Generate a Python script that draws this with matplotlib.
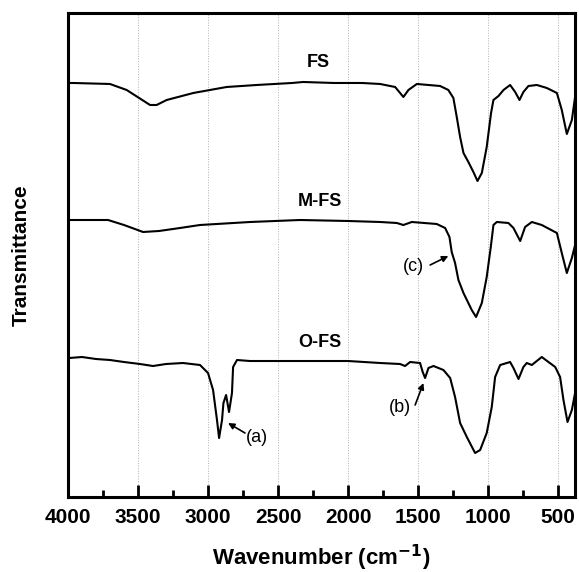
import numpy as np
import matplotlib
matplotlib.use('Agg')
import matplotlib.pyplot as plt
from matplotlib.ticker import MultipleLocator

plt.rcParams['font.family'] = ['Liberation Sans', 'DejaVu Sans']

# FTIR spectra (wavenumber, transmittance a.u., stacked)
fs_wn = [3990, 3962, 3700, 3581, 3414, 3367, 3295, 3105, 2867, 2652, 2400, 2321, 2100,
         1900, 1771, 1664, 1605, 1569, 1509, 1343, 1284, 1248, 1224, 1200, 1176, 1141,
         1105, 1076, 1045, 1010, 979, 962, 926, 890, 843, 807, 776, 748, 712, 652,
         581, 509, 474, 438, 402, 379]
fs_t = [414, 414, 413, 407, 392, 392, 397, 404, 410, 412, 414, 415, 414,
        414, 413, 410, 400, 407, 413, 411, 407, 399, 380, 360, 344, 335,
        325, 316, 324, 350, 384, 397, 401, 407, 412, 405, 397, 405, 411, 412,
        409, 404, 387, 363, 377, 400]

mfs_wn = [3990, 3714, 3600, 3464, 3350, 3200, 3057, 2700, 2343, 2000, 1771, 1652, 1605,
          1545, 1367, 1307, 1276, 1260, 1236, 1212, 1176, 1117, 1086, 1045, 1010, 981,
          962, 938, 855, 819, 771, 736, 688, 617, 509, 474, 438, 402, 379]
mfs_t = [277, 277, 272, 265, 266, 269, 272, 275, 277, 276, 275, 274, 272,
         275, 273, 269, 260, 245, 234, 217, 204, 187, 180, 194, 220, 250,
         272, 275, 274, 269, 256, 270, 275, 272, 264, 244, 224, 239, 252]

ofs_wn = [3990, 3900, 3800, 3700, 3600, 3486, 3393, 3300, 3179, 3057, 3000, 2964, 2936,
          2921, 2900, 2890, 2871, 2850, 2829, 2821, 2793, 2700, 2500, 2000, 1771, 1629,
          1593, 1557, 1486, 1467, 1450, 1426, 1390, 1319, 1271, 1236, 1200, 1152, 1093,
          1057, 1010, 974, 950, 914, 843, 819, 783, 748, 724, 688, 617, 521, 486, 462,
          433, 402, 379]
ofs_t = [139, 140, 138, 137, 135, 133, 131, 133, 134, 132, 124, 107, 77,
         59, 77, 94, 102, 85, 104, 130, 137, 136, 136, 136, 134, 133,
         131, 135, 134, 125, 119, 129, 131, 127, 119, 100, 74, 60, 44,
         47, 64, 90, 120, 132, 135, 129, 118, 130, 134, 132, 140, 130, 120, 97,
         75, 87, 104]

fig = plt.figure(figsize=(5.79, 5.72), dpi=100)
ax = fig.add_axes([0.1174, 0.1311, 0.8756, 0.8462])

ax.plot(fs_wn, fs_t, color='black', lw=1.5)
ax.plot(mfs_wn, mfs_t, color='black', lw=1.5)
ax.plot(ofs_wn, ofs_t, color='black', lw=1.5)

ax.set_xlim(4000, 380)
ax.set_ylim(0, 484)

# sample labels
ax.text(2214, 434, 'FS', ha='center', va='center', fontsize=13, fontweight='bold')
ax.text(2200, 295, 'M-FS', ha='center', va='center', fontsize=13, fontweight='bold')
ax.text(2200, 155, 'O-FS', ha='center', va='center', fontsize=13, fontweight='bold')

# peak markers
arr = dict(arrowstyle='-|>', color='black', lw=1.2, mutation_scale=9, shrinkA=0, shrinkB=0)
ax.text(1533, 230, '(c)', ha='center', va='center', fontsize=13)
ax.annotate('', xy=(1284, 241), xytext=(1414, 232), arrowprops=arr)
ax.text(2650, 60, '(a)', ha='center', va='center', fontsize=13)
ax.annotate('', xy=(2857, 74), xytext=(2736, 64), arrowprops=arr)
ax.text(1629, 90, '(b)', ha='center', va='center', fontsize=13)
ax.annotate('', xy=(1462, 114), xytext=(1521, 92), arrowprops=arr)

ax.xaxis.set_major_locator(MultipleLocator(500))
ax.xaxis.set_minor_locator(MultipleLocator(250))
ax.set_yticks([])
ax.tick_params(axis='x', which='major', direction='in', length=9, width=2, pad=8,
               labelsize=15)
ax.tick_params(axis='x', which='minor', direction='in', length=5, width=2)
for lab in ax.get_xticklabels():
    lab.set_fontweight('bold')
ax.grid(axis='x', which='major', color='0.55', linestyle=':', lw=0.7, alpha=0.7)

for s in ax.spines.values():
    s.set_linewidth(2.2)

ax.set_xlabel('Wavenumber (cm$^{\\mathbf{-1}}$)', fontsize=16, fontweight='bold', labelpad=11)
ax.set_ylabel('Transmittance', fontsize=15, fontweight='bold', labelpad=27)

fig.savefig('out.png', dpi=100)
